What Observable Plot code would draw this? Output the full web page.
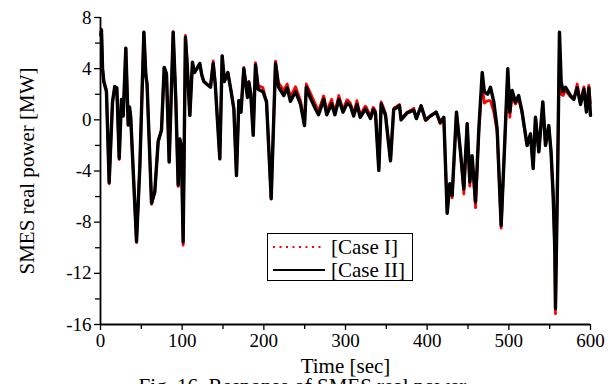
<!DOCTYPE html>
<html>
<head>
<meta charset="utf-8">
<script src="https://cdn.jsdelivr.net/npm/d3@7"></script>
<script src="https://cdn.jsdelivr.net/npm/@observablehq/plot@0.6"></script>
<style>
  html, body { margin: 0; padding: 0; background: #fff; }
  #wrap { position: relative; width: 615px; height: 384px; overflow: hidden; font-family: "Liberation Serif", "Times New Roman", serif; }
  #wrap svg text { font-family: "Liberation Serif", "Times New Roman", serif; }
  #legend { position: absolute; left: 267px; top: 233px; width: 146px; height: 48px; border: 1.5px solid #000; background: #fff; box-sizing: border-box; }
</style>
</head>
<body>
<div id="wrap"></div>
<script>
// Time [sec]
const time = [0.5,1.2,2.5,4,7.3,10.6,14.7,17.5,20,22.9,25.7,27.8,31,33.9,35.5,37,44.1,48.2,53.1,55.5,57,62.5,66.5,70.6,74.7,78,80.8,84.1,89,92.2,95.1,97.1,99,101.2,104,106,109.4,112.6,115,118,121.6,124,126.5,130,134.7,138,140.5,146.1,149,151.7,155.9,160,163.3,166.5,169.4,172,175.5,180,181.6,184,187,189.8,193,199,203.3,209,214.3,218,224.4,228.6,232.6,238.8,245,249.8,252,257,263.3,267,273.4,277,283,287,291.8,297,302,306,310,314,318,324.5,330.6,334,336.7,340.8,343.7,349,355.1,359,366.1,368,375.5,383.6,386.8,392.6,398,404,411,416,420.4,424.5,427.7,430.6,435.9,440.8,444.9,449,452.2,455,459.2,463.3,467.4,470,474,477.5,481.6,485.7,490.6,494.7,498.7,501.2,504,508,512,516,522.4,526.5,529.8,532.6,536.7,541.6,544.9,548.9,551.7,554.3,556.3,557.1,558.3,560,562,564.1,566.5,569.4,575.5,579.6,583.7,587.8,592,595,598,600];
// SMES real power [MW], Case II (black solid)
const caseII = [6.6,7.0,4.0,3.0,2.2,-4.9,1.4,2.6,2.5,-3.0,1.6,0.3,5.6,-0.4,1.0,0.2,-9.5,-3.6,6.85,3.5,2.8,-6.5,-5.6,-1.7,-0.8,4.1,3.6,-3.3,6.85,1.6,-5.1,-1.5,-2.1,-9.55,6.45,4.5,0.35,4.5,3.7,4.0,4.4,3.5,3.0,2.8,2.55,4.4,2.8,-3.05,5.0,3.0,3.7,2.2,0.85,-4.35,1.5,0.6,4.0,1.75,2.95,2.0,-1.2,4.3,2.4,2.2,1.4,-6.15,4.4,2.55,1.9,2.5,1.45,2.2,1.2,-0.45,2.55,1.7,0.85,0.4,1.6,0.4,1.25,0.4,1.6,0.6,1.3,1.1,0.3,1.2,0.2,0.85,0.1,0.8,0.5,-3.95,1.25,0.35,-3.2,0.8,1.1,0.0,0.55,0.75,0.1,1.1,0.0,0.3,0.6,-0.2,0.2,-7.3,-5.0,-5.9,0.6,-2.5,-5.4,-0.3,-4.85,-2.8,-6.4,-0.7,3.7,2.2,2.0,2.55,1.4,-0.7,-8.25,-2.2,4.0,0.6,2.3,1.4,1.9,0.7,-2.0,-1.1,-3.8,0.2,-2.5,1.4,-2.0,-0.45,-2.5,-5.9,-10.1,-14.75,-10.0,-3.0,6.85,2.95,2.2,2.55,1.9,1.6,2.5,1.2,2.4,0.6,2.5,0.35];
// SMES real power [MW], Case I (red dotted)
const caseI = [6.8,7.1,4.1,3.1,2.3,-5.0,1.4,2.6,2.5,-3.1,1.6,0.3,5.6,-0.4,1.0,0.2,-9.6,-3.6,6.9,3.6,2.8,-6.6,-5.7,-1.7,-0.8,4.1,3.6,-3.3,6.9,1.6,-5.2,-1.5,-2.1,-9.8,6.6,4.5,0.35,4.5,3.7,4.0,4.4,3.5,3.0,2.8,2.6,4.6,2.8,-3.05,5.0,3.0,3.7,2.2,0.85,-4.35,1.5,0.6,4.1,1.8,3.0,2.1,-1.2,4.5,2.7,2.5,1.4,-6.2,4.6,2.9,2.3,2.8,1.8,2.6,1.5,-0.4,2.8,2.1,1.2,0.7,1.9,0.7,1.6,0.6,1.9,0.8,1.6,1.3,0.5,1.5,0.4,1.1,0.3,1.0,0.7,-3.9,1.4,0.5,-3.2,0.9,1.2,0.1,0.6,0.9,0.1,1.1,-0.1,0.3,0.6,-0.3,0.2,-7.3,-5.0,-6.1,0.6,-2.6,-5.8,-0.3,-5.2,-2.9,-6.9,-0.9,3.0,1.3,1.5,1.5,0.6,-1.0,-8.5,-2.3,3.8,0.2,2.0,1.2,1.7,0.6,-2.0,-1.1,-3.8,0.2,-2.5,1.4,-2.0,-0.5,-2.5,-6.0,-10.3,-15.2,-10.2,-3.0,6.0,2.0,1.9,2.3,1.8,1.6,2.8,1.4,2.6,0.8,2.7,1.2];

const xMajor = [0,100,200,300,400,500,600];
const xMinor = [50,150,250,350,450,550];
const yMajor = [-16,-12,-8,-4,0,4,8];
const yMinor = [-14,-10,-6,-2,2,6];
const seriesNames = ["[Case I]", "[Case II]"];
const xLabel = "Time [sec]";
const yLabel = "SMES real power [MW]";
const caption = "Fig. 16. Response of SMES real power";

const serif = "Liberation Serif, Times New Roman, serif";
const dataI = time.map((t, i) => ({t, v: caseI[i]}));
const dataII = time.map((t, i) => ({t, v: caseII[i]}));

const chart = Plot.plot({
  width: 615,
  height: 384,
  marginLeft: 100,
  marginRight: 25,
  marginTop: 17,
  marginBottom: 60,
  style: {fontFamily: serif, fontSize: "19px", color: "#000", background: "#fff", overflow: "hidden"},
  x: {domain: [0, 600]},
  y: {domain: [-16, 8]},
  marks: [
    Plot.line(dataI, {x: "t", y: "v", stroke: "#ff0000", strokeWidth: 2.8, strokeDasharray: "1.5,1.5", curve: "linear"}),
    Plot.line(dataII, {x: "t", y: "v", stroke: "#000", strokeWidth: 3.4, curve: "linear"}),
    Plot.axisX({ticks: xMajor, tickSize: 6, tickPadding: 3, tickFormat: d => String(d), label: null, fontSize: 19, fontFamily: serif, strokeWidth: 1.3}),
    Plot.axisX({ticks: xMinor, tickSize: 5, text: null, label: null, strokeWidth: 1.3}),
    Plot.axisY({ticks: yMajor, tickSize: 6, tickPadding: 3, tickFormat: d => String(d), label: null, fontSize: 19, fontFamily: serif, strokeWidth: 1.3}),
    Plot.axisY({ticks: yMinor, tickSize: 5, text: null, label: null, strokeWidth: 1.3}),
    Plot.ruleX([0], {stroke: "#000", strokeWidth: 1.8}),
    Plot.ruleY([-16], {stroke: "#000", strokeWidth: 1.8}),
    Plot.text([xLabel], {frameAnchor: "bottom", dy: 48, fontSize: 21, fontFamily: serif, fill: "#000"}),
    Plot.text([yLabel], {frameAnchor: "left", dx: -73, rotate: -90, textAnchor: "middle", fontSize: 21, fontFamily: serif, fill: "#000"}),
    Plot.text([caption], {frameAnchor: "bottom-left", textAnchor: "start", dx: 38, dy: 68, fontSize: 21, fontFamily: serif, fill: "#000"})
  ]
});
const wrap = document.getElementById("wrap");
wrap.appendChild(chart);

// Legend
const leg = document.createElement("div");
leg.id = "legend";
leg.innerHTML = `<svg width="146" height="48" style="display:block;overflow:visible">
  <line x1="5" y1="13" x2="56" y2="13" stroke="#ff0000" stroke-width="2" stroke-dasharray="2,4.5"/>
  <line x1="5" y1="36" x2="57" y2="36" stroke="#000" stroke-width="2"/>
  <text x="63" y="20" font-size="21" fill="#000">${seriesNames[0]}</text>
  <text x="63" y="43" font-size="21" fill="#000">${seriesNames[1]}</text>
</svg>`;
wrap.appendChild(leg);
</script>
</body>
</html>
